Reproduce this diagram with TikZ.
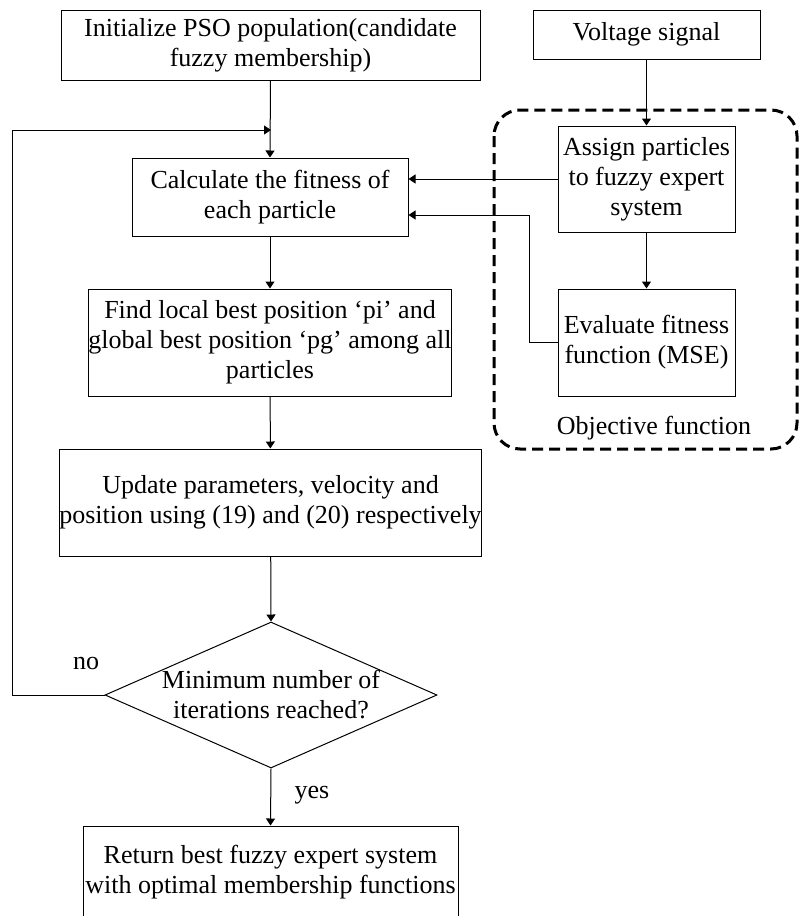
\documentclass[tikz,border=0pt]{standalone}
\usepackage{fontspec}
\setmainfont{Liberation Serif}
\usetikzlibrary{shapes.geometric,arrows.meta}
\begin{document}
\begin{tikzpicture}[x=1pt,y=-1pt,
  every node/.style={font=\fontsize{26}{30}\selectfont},
  box/.style={draw, line width=1pt, inner sep=0pt, align=center},
  conn/.style={line width=1pt, -{Triangle[width=9pt,length=7pt]}},
  plain/.style={line width=1pt},
  objbox/.style={line width=3pt, dash pattern=on 11pt off 6pt, rounded corners=26pt}]
\useasboundingbox (0,0) rectangle (800,916);
\node[box, minimum width=419pt, minimum height=70pt] (init) at (270.5,45) {Initialize PSO population(candidate\\fuzzy membership)};
\node[box, minimum width=227pt, minimum height=49pt] (volt) at (646.5,34.5) {Voltage signal};
\node[box, minimum width=276pt, minimum height=78pt] (calc) at (270,197) {Calculate the fitness of\\each particle};
\node[box, minimum width=177pt, minimum height=106pt] (assign) at (646.5,179) {Assign particles\\to fuzzy expert\\system};
\node[box, minimum width=177pt, minimum height=107pt] (eval) at (646.5,342.5) {Evaluate fitness\\function (MSE)};
\node[box, minimum width=362pt, minimum height=107pt] (find) at (270,342.5) {Find local best position ‘pi’ and\\global best position ‘pg’ among all\\particles};
\node[box, minimum width=419pt, minimum height=107pt] (update) at (270.5,502.5) {Update parameters, velocity and\\position using (19) and (20) respectively};
\node[diamond, draw, line width=1pt, inner sep=0pt, minimum width=332pt, minimum height=146pt] (dec) at (271,695) {};
\node[align=center, inner sep=0pt] (dectext) at (dec.center) {Minimum number of\\iterations reached?};
\node[box, minimum width=375pt, minimum height=92pt] (ret) at (270.5,872) {Return best fuzzy expert system\\with optimal membership functions};
\node[inner sep=0pt] (no) at (86,663) {no};
\node[inner sep=0pt] (yes) at (312,795) {yes};
\node[inner sep=0pt] (obj) at (654,428) {Objective function};
\draw[objbox] (494,110) rectangle (797,449);
\coordinate (fb) at (271,130);
\coordinate (fbl) at (12,130);
\coordinate (ev) at (529,0);
\draw[conn] (init.south) -- (calc.north);
\draw[conn] (dec.west) -| (fbl) -- (fb);
\draw[conn] (calc) -- (find);
\draw[conn] (find) -- (update);
\draw[conn] (update) -- (dec.north);
\draw[conn] (dec.south) -- (ret.north);
\draw[conn] (volt) -- (assign);
\draw[conn] (assign) -- (eval);
\draw[conn] (assign.west) -- (assign.west -| calc.east);
\draw[conn] (eval.west) -| (ev |- 0,215) -- (calc.east |- 0,215);
\end{tikzpicture}
\end{document}
